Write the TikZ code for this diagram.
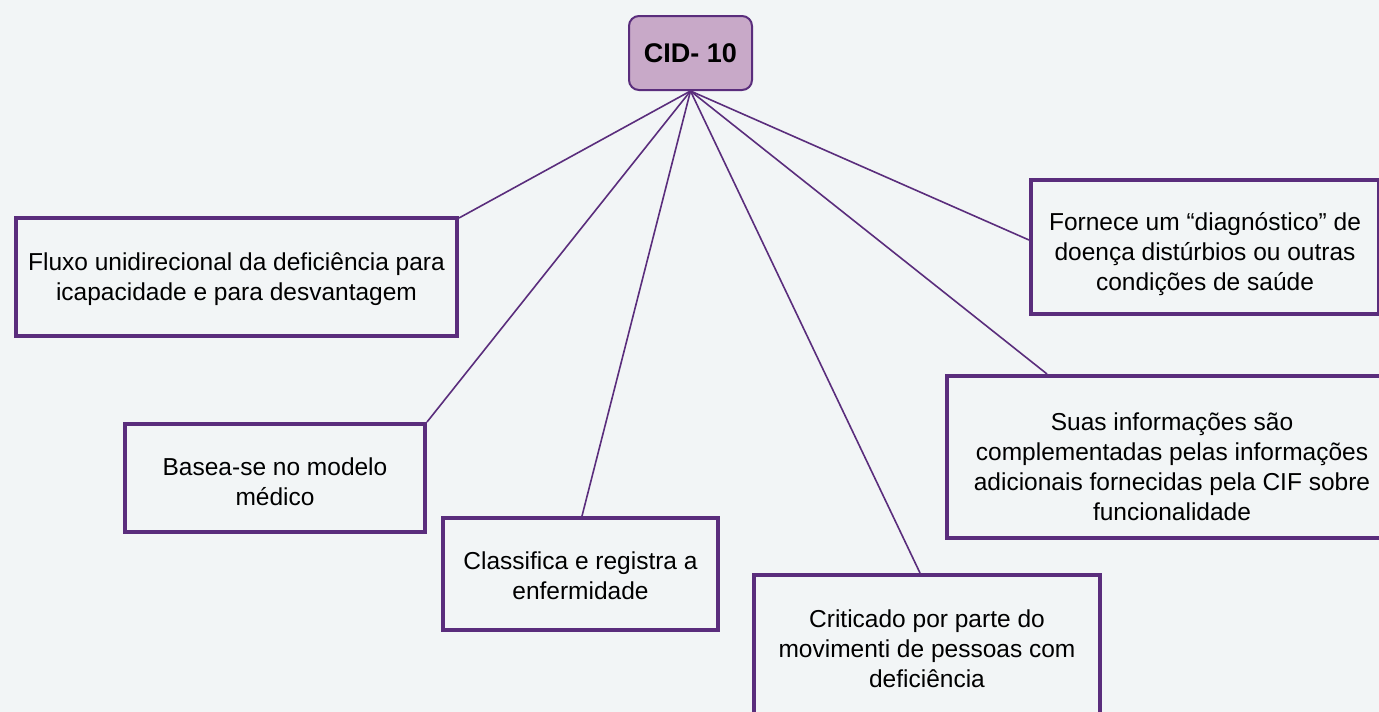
\documentclass[tikz,border=0pt]{standalone}
\usepackage{fontspec}
\setmainfont{Liberation Sans}
\definecolor{bg}{HTML}{F2F5F6}
\definecolor{pline}{HTML}{5A2D7C}
\definecolor{hubfill}{HTML}{C8A9C8}
\begin{document}
\begin{tikzpicture}[x=1pt,y=-1pt,
  box/.style={draw=pline,line width=4pt,fill=bg,inner sep=0pt},
  txt/.style={align=center,font=\fontsize{24.5}{30}\selectfont,text=black,inner sep=0pt},
  conn/.style={draw=pline,line width=1.6pt}]
\useasboundingbox (0,0) rectangle (1379,712);
\fill[bg] (0,0) rectangle (1379,712);
% hub
\node[draw=pline,line width=2pt,fill=hubfill,rounded corners=10pt,minimum width=123pt,minimum height=74pt,inner sep=0pt,font=\bfseries\fontsize{27}{30}\selectfont] (cid) at (690.5,53) {CID- 10};
% boxes
\node[box,minimum width=441pt,minimum height=118pt] (b1) at (236.5,277) {};
\node[txt] (t1) at (236.5,279) {Fluxo unidirecional da deficiência para\\icapacidade e para desvantagem};
\node[box,minimum width=300pt,minimum height=108pt] (b2) at (275,478) {};
\node[txt] (t2) at (275,482) {Basea-se no modelo\\médico};
\node[box,minimum width=275pt,minimum height=112pt] (b3) at (580.5,574) {};
\node[txt] (t3) at (580.5,576) {Classifica e registra a\\enfermidade};
\node[box,minimum width=346pt,minimum height=155pt] (b4) at (927,652.5) {};
\node[txt] (t4) at (927,649) {Criticado por parte do\\movimenti de pessoas com\\deficiência};
\node[box,minimum width=348pt,minimum height=134pt] (b5) at (1205,247) {};
\node[txt] (t5) at (1205,254) {Fornece um “diagnóstico” de\\doença distúrbios ou outras\\condições de saúde};
\node[box,minimum width=448pt,minimum height=162pt] (b6) at (1171,457) {};
\node[txt] (t6) at (1172,467) {Suas informações são\\complementadas pelas informações\\adicionais fornecidas pela CIF sobre\\funcionalidade};
% connector end points
\coordinate (e3) at ([xshift=1.5pt]b3.north);
\coordinate (e4) at ([xshift=-7pt]b4.north);
\coordinate (e5) at ([yshift=7pt]b5.west);
\coordinate (e6) at ([xshift=-124pt]b6.north);
\begin{scope}[on background layer/.try]
\end{scope}
\draw[conn] (cid.south) -- ([yshift=-2pt]b1.north east);
\draw[conn] (cid.south) -- (b2.north east);
\draw[conn] (cid.south) -- (e3);
\draw[conn] (cid.south) -- (e4);
\draw[conn] (cid.south) -- (e5);
\draw[conn] (cid.south) -- (e6);
\end{tikzpicture}
\end{document}
